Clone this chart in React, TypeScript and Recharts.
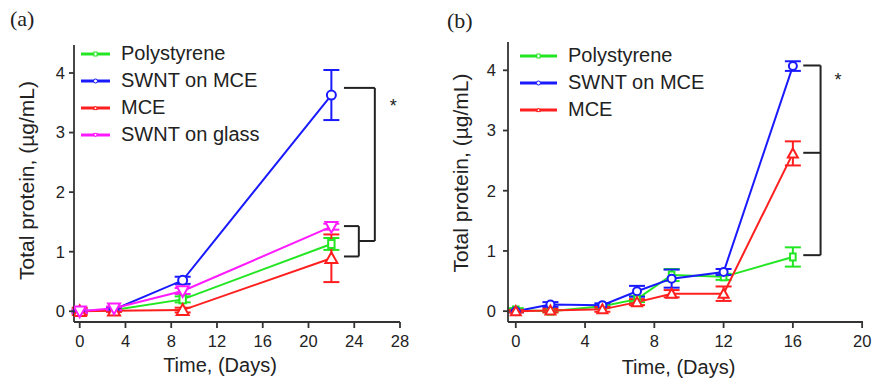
import React from 'react'
import { LineChart, Line, XAxis, YAxis, ErrorBar, ReferenceLine, ReferenceDot, Label } from 'recharts'

// ---- panel (a) ----
const daysA = [0, 3, 9, 22]
const polyA = [0, 0.02, 0.2, 1.13]
const polyErrA = [0.03, 0.02, 0.05, 0.1]
const swntMceA = [0, 0.03, 0.52, 3.63]
const swntMceErrA = [0.02, 0.03, 0.06, 0.42]
const mceA = [0, 0.01, 0.02, 0.89]
const mceErrA = [0.06, 0.02, 0.04, 0.4]
const swntGlassA = [0, 0.05, 0.34, 1.42]
const swntGlassErrA = [0.03, 0.03, 0.05, 0.05]
const ticksXA = [0, 4, 8, 12, 16, 20, 24, 28]

// ---- panel (b) ----
const daysB = [0, 2, 5, 7, 9, 12, 16]
const polyB = [0.02, 0, 0.08, 0.2, 0.6, 0.57, 0.9]
const polyErrB = [0.03, 0.02, 0.03, 0.05, 0.1, 0.05, 0.16]
const swntMceB = [0, 0.11, 0.1, 0.33, 0.54, 0.65, 4.07]
const swntMceErrB = [0.02, 0.04, 0.03, 0.09, 0.15, 0.05, 0.08]
const mceB = [0, 0.01, 0.03, 0.15, 0.29, 0.29, 2.62]
const mceErrB = [0.02, 0.03, 0.04, 0.05, 0.06, 0.12, 0.2]
const ticksXB = [0, 4, 8, 12, 16, 20]

const ticksY = [0, 1, 2, 3, 4]

// significance brackets, in data units
const bracketA = { x0: 23.1, x1: 25.8, xs: 24.4, top: 3.75, mid: 1.18, smallTop: 1.43, smallBot: 0.92, starX: 27.4, starY: 3.45 }
const bracketB = { x0: 16.6, x1: 17.6, top: 4.08, mid: 2.63, bot: 0.93, starX: 18.6, starY: 3.85 }

const GREEN = '#22e622'
const BLUE = '#1a1aff'
const RED = '#ff1f1f'
const MAGENTA = '#ff1aff'
const AXIS = '#333'
const FONT = '"Liberation Sans", Arial, sans-serif'

type Shape = 'circle' | 'square' | 'up' | 'down'

const rows = (days: number[], vals: number[], errs: number[]) =>
  days.map((d, i) => ({ day: d, value: vals[i], err: errs[i] }))

function Marker({ cx, cy, shape, color, size, sw = 2 }: { cx: number; cy: number; shape: Shape; color: string; size: number; sw?: number }) {
  const h = size / 2
  if (shape === 'circle') return <circle cx={cx} cy={cy} r={h} fill="#fff" stroke={color} strokeWidth={sw} />
  if (shape === 'square') return <rect x={cx - h * 0.8} y={cy - h} width={h * 1.6} height={size} fill="#fff" stroke={color} strokeWidth={sw} />
  if (shape === 'up')
    return <polygon points={`${cx},${cy - h} ${cx + h},${cy + h * 0.8} ${cx - h},${cy + h * 0.8}`} fill="#fff" stroke={color} strokeWidth={sw} />
  return <polygon points={`${cx},${cy + h} ${cx + h},${cy - h * 0.8} ${cx - h},${cy - h * 0.8}`} fill="#fff" stroke={color} strokeWidth={sw} />
}

const dot = (shape: Shape, color: string, size: number) => (p: any) => {
  if (p.cx == null || p.cy == null) return <g key={p.index} />
  return (
    <g key={p.index}>
      <Marker cx={p.cx} cy={p.cy} shape={shape} color={color} size={size} />
    </g>
  )
}

type Series = { name: string; color: string; shape: Shape; data: { day: number; value: number; err: number }[]; size: number }

const seriesA: Series[] = [
  { name: 'Polystyrene', color: GREEN, shape: 'square', data: rows(daysA, polyA, polyErrA), size: 8 },
  { name: 'SWNT on MCE', color: BLUE, shape: 'circle', data: rows(daysA, swntMceA, swntMceErrA), size: 9 },
  { name: 'MCE', color: RED, shape: 'up', data: rows(daysA, mceA, mceErrA), size: 12 },
  { name: 'SWNT on glass', color: MAGENTA, shape: 'down', data: rows(daysA, swntGlassA, swntGlassErrA), size: 12 },
]

const seriesB: Series[] = [
  { name: 'Polystyrene', color: GREEN, shape: 'square', data: rows(daysB, polyB, polyErrB), size: 7 },
  { name: 'SWNT on MCE', color: BLUE, shape: 'circle', data: rows(daysB, swntMceB, swntMceErrB), size: 8 },
  { name: 'MCE', color: RED, shape: 'up', data: rows(daysB, mceB, mceErrB), size: 10 },
]

function LegendBox({ series, left, top, lineLen }: { series: Series[]; left: number; top: number; lineLen: number }) {
  return (
    <div style={{ position: 'absolute', left, top, fontFamily: FONT, fontSize: 20, color: '#222' }}>
      {series.map((s) => (
        <div key={s.name} style={{ display: 'flex', alignItems: 'center', height: 27 }}>
          <svg width={lineLen} height={10} style={{ marginRight: 11 }}>
            <line x1={0} y1={5} x2={lineLen} y2={5} stroke={s.color} strokeWidth={3} />
            <Marker cx={lineLen / 2} cy={5} shape={s.shape} color={s.color} size={4} sw={1} />
          </svg>
          <span>{s.name}</span>
        </div>
      ))}
    </div>
  )
}

const yTitle = (dx: number, dy: number) => (props: any) => {
  const vb = props.viewBox
  const x = vb.x + dx
  const y = vb.y + vb.height / 2 + dy
  return (
    <text x={x} y={y} transform={`rotate(-90 ${x} ${y})`} textAnchor="middle" dominantBaseline="central" fontFamily={FONT} fontSize={21} fill="#222">
      Total protein, (µg/mL)
    </text>
  )
}

const xTitle = (dx: number, baseline: number) => (props: any) => {
  const vb = props.viewBox
  return (
    <text x={vb.x + vb.width / 2 + dx} y={baseline} textAnchor="middle" fontFamily={FONT} fontSize={20} fill="#222">
      Time, (Days)
    </text>
  )
}

const tickStyle = { fontFamily: FONT, fontSize: 16.5, fill: '#222' }
const bracketProps = { stroke: '#222', strokeWidth: 2, ifOverflow: 'visible' as const }

function Panel({ series, width, margin, xDomain, xTicks, yTickMargin, yTitleDx, yTitleDy, xTitleDx, xTitleBase, children }: any) {
  return (
    <LineChart width={width} height={381} margin={margin}>
      <XAxis
        type="number"
        dataKey="day"
        domain={xDomain}
        ticks={xTicks}
        allowDataOverflow
        height={59}
        tickSize={6}
        tickMargin={7}
        tick={tickStyle}
        stroke={AXIS}
        strokeWidth={1.8}
      >
        <Label content={xTitle(xTitleDx, xTitleBase)} />
      </XAxis>
      <YAxis
        type="number"
        domain={[-0.18, 4.47]}
        ticks={ticksY}
        allowDataOverflow
        width={60}
        tickSize={5}
        tickMargin={yTickMargin}
        tick={tickStyle}
        stroke={AXIS}
        strokeWidth={1.8}
      >
        <Label content={yTitle(yTitleDx, yTitleDy)} />
      </YAxis>
      {series.map((s: Series) => (
        <Line
          key={s.name}
          data={s.data}
          dataKey="value"
          name={s.name}
          stroke={s.color}
          strokeWidth={2}
          dot={dot(s.shape, s.color, s.size)}
          activeDot={false}
          isAnimationActive={false}
        >
          <ErrorBar dataKey="err" width={8} stroke={s.color} strokeWidth={2} direction="y" />
        </Line>
      ))}
      {children}
    </LineChart>
  )
}

export default function App() {
  const a = bracketA
  const b = bracketB
  return (
    <div style={{ position: 'absolute', left: 0, top: 0, width: 875, height: 381, background: '#fff', overflow: 'hidden' }}>
      <div style={{ position: 'absolute', left: 0, top: 0 }}>
        <Panel
          series={seriesA}
          width={440}
          margin={{ top: 45, right: 40, bottom: 0, left: 14 }}
          xDomain={[-0.5, 28]}
          xTicks={ticksXA}
          yTickMargin={4}
          yTitleDx={12}
          yTitleDy={-3}
          xTitleDx={-17}
          xTitleBase={372}
        >
          <ReferenceLine segment={[{ x: a.x0, y: a.top }, { x: a.x1, y: a.top }]} {...bracketProps} />
          <ReferenceLine segment={[{ x: a.x1, y: a.top }, { x: a.x1, y: a.mid }]} {...bracketProps} />
          <ReferenceLine segment={[{ x: a.xs, y: a.mid }, { x: a.x1, y: a.mid }]} {...bracketProps} />
          <ReferenceLine segment={[{ x: a.x0, y: a.smallTop }, { x: a.xs, y: a.smallTop }]} {...bracketProps} />
          <ReferenceLine segment={[{ x: a.xs, y: a.smallTop }, { x: a.xs, y: a.smallBot }]} {...bracketProps} />
          <ReferenceLine segment={[{ x: a.x0, y: a.smallBot }, { x: a.xs, y: a.smallBot }]} {...bracketProps} />
          <ReferenceDot x={a.starX} y={a.starY} r={0} ifOverflow="visible" label={{ value: '*', position: 'center', fontSize: 18, fill: '#222', fontFamily: FONT }} />
        </Panel>
        <LegendBox series={seriesA} left={81} top={40} lineLen={29} />
      </div>
      <div style={{ position: 'absolute', left: 440, top: 0 }}>
        <Panel
          series={seriesB}
          width={435}
          margin={{ top: 42, right: 12, bottom: 0, left: 8 }}
          xDomain={[-0.45, 20.05]}
          xTicks={ticksXB}
          yTickMargin={7}
          yTitleDx={12}
          yTitleDy={-9}
          xTitleDx={-7}
          xTitleBase={374}
        >
          <ReferenceLine segment={[{ x: b.x0, y: b.top }, { x: b.x1, y: b.top }]} {...bracketProps} />
          <ReferenceLine segment={[{ x: b.x1, y: b.top }, { x: b.x1, y: b.bot }]} {...bracketProps} />
          <ReferenceLine segment={[{ x: b.x0, y: b.mid }, { x: b.x1, y: b.mid }]} {...bracketProps} />
          <ReferenceLine segment={[{ x: b.x0, y: b.bot }, { x: b.x1, y: b.bot }]} {...bracketProps} />
          <ReferenceDot x={b.starX} y={b.starY} r={0} ifOverflow="visible" label={{ value: '*', position: 'center', fontSize: 18, fill: '#222', fontFamily: FONT }} />
        </Panel>
        <LegendBox series={seriesB} left={80} top={42} lineLen={37} />
      </div>
      <div style={{ position: 'absolute', left: 10, top: 6, fontFamily: '"Liberation Serif", "Times New Roman", serif', fontSize: 22, color: '#222' }}>(a)</div>
      <div style={{ position: 'absolute', left: 447, top: 8, fontFamily: '"Liberation Serif", "Times New Roman", serif', fontSize: 22, color: '#222' }}>(b)</div>
    </div>
  )
}
